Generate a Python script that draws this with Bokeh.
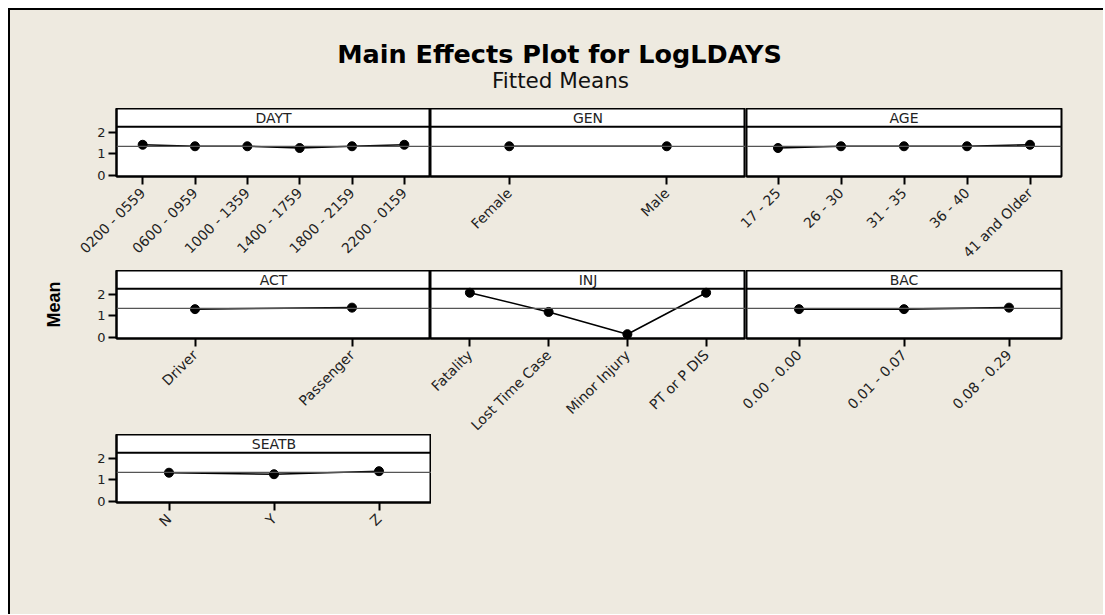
from math import pi
from bokeh.plotting import figure
from bokeh.models import Span, Label, FixedTicker, Range1d
from bokeh.layouts import column, row
from bokeh.embed import file_html
from bokeh.resources import INLINE

# ---------------- data ----------------
GRAND_MEAN = 1.35

dayt_levels = ["0200 - 0559", "0600 - 0959", "1000 - 1359", "1400 - 1759", "1800 - 2159", "2200 - 0159"]
dayt_means = [1.42, 1.35, 1.35, 1.27, 1.35, 1.42]

gen_levels = ["Female", "Male"]
gen_means = [1.35, 1.35]

age_levels = ["17 - 25", "26 - 30", "31 - 35", "36 - 40", "41 and Older"]
age_means = [1.27, 1.35, 1.35, 1.35, 1.42]

act_levels = ["Driver", "Passenger"]
act_means = [1.31, 1.38]

inj_levels = ["Fatality", "Lost Time Case", "Minor Injury", "PT or P DIS"]
inj_means = [2.07, 1.18, 0.15, 2.07]

bac_levels = ["0.00 - 0.00", "0.01 - 0.07", "0.08 - 0.29"]
bac_means = [1.31, 1.31, 1.38]

seatb_levels = ["N", "Y", "Z"]
seatb_means = [1.33, 1.26, 1.40]

y_ticks = [0, 1, 2]

# ---------------- style ----------------
BG = "#EEEAE0"
FONT = "DejaVu Sans"
FRAME_H = 68
Y_START, Y_END = -0.05, 3.1
HEADER_Y = 2.25
OVER = 44  # extra transparent border so rotated labels can overflow
CONTENT_W = 1095


def panel(name, levels, means, first, height, right_border=0, ylabel=None, top_shift=0):
    fw = 315 if first else 316
    left = 106 if first else OVER
    kw = dict(
        x_range=levels,
        y_range=Range1d(Y_START, Y_END),
        frame_height=FRAME_H,
        frame_width=fw,
        output_backend="svg",
        toolbar_location=None,
        min_border_top=0,
        min_border_right=right_border,
        min_border_bottom=height - FRAME_H,
        min_border_left=left,
        height=height,
        width=left + fw + right_border,
    )
    if not first:
        kw["y_axis_location"] = None
    p = figure(**kw)
    p.border_fill_alpha = 0
    p.background_fill_color = "white"
    p.outline_line_color = "black"
    p.outline_line_width = 2
    p.grid.visible = False

    p.add_layout(Span(location=GRAND_MEAN, dimension="width",
                      line_color="#555555", line_width=1.2))
    p.add_layout(Span(location=HEADER_Y, dimension="width",
                      line_color="black", line_width=2))
    p.add_layout(Label(x=len(levels) / 2, y=(HEADER_Y + Y_END) / 2, text=name,
                       text_align="center", text_baseline="middle",
                       text_font=FONT, text_font_size="14px", text_color="#222222"))

    p.line(levels, means, line_color="black", line_width=1.6)
    p.scatter(levels, means, size=9, color="black")

    xa = p.xaxis[0]
    xa.axis_line_color = "black"
    xa.axis_line_width = 2
    xa.major_tick_in = 0
    xa.major_tick_out = 8
    xa.major_tick_line_width = 2
    xa.major_tick_line_color = "black"
    xa.major_label_orientation = pi / 4
    xa.major_label_text_font = FONT
    xa.major_label_text_font_size = "14px"
    xa.major_label_text_color = "#222222"
    xa.major_label_standoff = 6

    if first:
        ya = p.yaxis[0]
        ya.ticker = FixedTicker(ticks=y_ticks)
        ya.minor_tick_line_color = None
        ya.axis_line_color = "black"
        ya.axis_line_width = 2
        ya.major_tick_in = 0
        ya.major_tick_out = 8
        ya.major_tick_line_width = 2
        ya.major_tick_line_color = "black"
        ya.major_label_text_font = FONT
        ya.major_label_text_font_size = "13px"
        ya.major_label_text_color = "#222222"
        ya.major_label_standoff = 3
        if ylabel:
            ya.axis_label = ylabel
            ya.axis_label_text_font = "Liberation Sans"
            ya.axis_label_text_font_style = "bold"
            ya.axis_label_text_font_size = "18px"
            ya.axis_label_text_color = "black"
            ya.axis_label_standoff = 30
    p.margin = (top_shift, 0, 0, 0 if first else -OVER)
    return p


# ---------------- title ----------------
t = figure(width=CONTENT_W, height=98, x_range=(0, 1), y_range=(0, 1),
           output_backend="svg", toolbar_location=None,
           min_border=0, x_axis_location=None, y_axis_location=None)
t.frame_width = CONTENT_W
t.frame_height = 98
t.border_fill_alpha = 0
t.background_fill_alpha = 0
t.outline_line_color = None
t.grid.visible = False
t.add_layout(Label(x=550 / CONTENT_W, y=0.56, text="Main Effects Plot for LogLDAYS",
                   text_align="center", text_baseline="middle",
                   text_font="DejaVu Sans", text_font_style="bold",
                   text_font_size="25.5px", text_color="black"))
t.add_layout(Label(x=551 / CONTENT_W, y=0.29, text="Fitted Means",
                   text_align="center", text_baseline="middle",
                   text_font=FONT, text_font_size="21.5px", text_color="#111111"))

# ---------------- panels ----------------
RB = CONTENT_W - (315 + 106) - 316 - 316
r1 = row(
    panel("DAYT", dayt_levels, dayt_means, True, 162),
    panel("GEN", gen_levels, gen_means, False, 162),
    panel("AGE", age_levels, age_means, False, 162, right_border=RB),
)
r2 = row(
    panel("ACT", act_levels, act_means, True, 165, ylabel="Mean"),
    panel("INJ", inj_levels, inj_means, False, 165),
    panel("BAC", bac_levels, bac_means, False, 165, right_border=RB),
)
r3 = row(
    panel("SEATB", seatb_levels, seatb_means, True, 180, top_shift=-7),
)

root = column(t, r1, r2, r3, spacing=0,
              styles={"background-color": BG,
                      "border-top": "2px solid black",
                      "border-left": "2px solid black",
                      "margin-left": "8px",
                      "margin-top": "8px",
                      "width": f"{CONTENT_W}px"})

open("out.html", "w").write(file_html(root, INLINE))
